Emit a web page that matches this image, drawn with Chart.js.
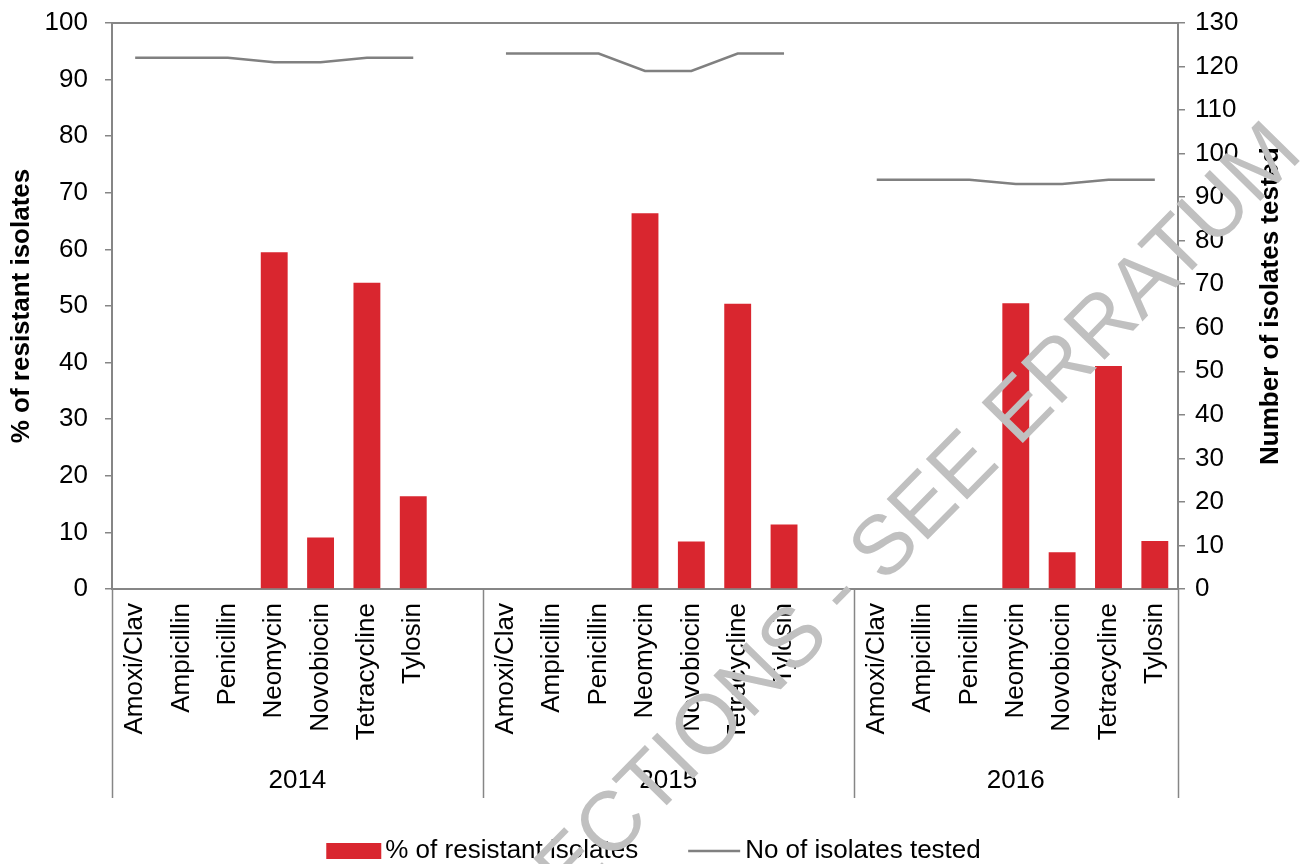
<!DOCTYPE html>
<html>
<head>
<meta charset="utf-8">
<script src="https://cdn.jsdelivr.net/npm/chart.js@4.4.1/dist/chart.umd.min.js"></script>
<style>
  html, body { margin: 0; padding: 0; background: #fff; }
  #wrap { width: 1301px; height: 864px; position: relative; }
</style>
</head>
<body>
<div id="wrap"><canvas id="resChart"></canvas></div>
<script>
// antibiotics per year, blank slot after each year like the original sheet
const drugs = ["Amoxi/Clav", "Ampicillin", "Penicillin", "Neomycin", "Novobiocin", "Tetracycline", "Tylosin"];
const categories = [].concat(drugs, [""], drugs, [""], drugs);
const years = ["2014", "2015", "2016"];
const yearStart = [0, 8, 16, 23];   // category index where each year block starts (last = end)

// % of resistant isolates
const pctResistant = [
  0, 0, 0, 59.5, 9.1, 54.1, 16.4, null,
  0, 0, 0, 66.4, 8.4, 50.4, 11.4, null,
  0, 0, 0, 50.5, 6.5, 39.4, 8.5
];

// No of isolates tested
const isolatesTested = [
  122, 122, 122, 121, 121, 122, 122, null,
  123, 123, 123, 119, 119, 123, 123, null,
  94, 94, 94, 93, 93, 94, 94
];

const leftTicks = { min: 0, max: 100, step: 10 };
const rightTicks = { min: 0, max: 130, step: 10 };

const FONT = "'Liberation Sans', Arial, sans-serif";
const AXIS_GREY = "#868686";
const BAR_RED = "#d9262f";
const LINE_GREY = "#808080";

const extras = {
  id: "extras",
  afterDraw(chart) {
    const ctx = chart.ctx;
    const area = chart.chartArea;
    const x = chart.scales.x;
    const step = x.getPixelForValue(1) - x.getPixelForValue(0);
    const edge = i => (i < categories.length ? x.getPixelForValue(i) - step / 2 : x.getPixelForValue(i - 1) + step / 2);

    ctx.save();
    // top frame line
    ctx.strokeStyle = AXIS_GREY;
    ctx.lineWidth = 2;
    ctx.beginPath();
    ctx.moveTo(area.left, area.top);
    ctx.lineTo(area.right, area.top);
    ctx.stroke();

    // year dividers + labels
    ctx.lineWidth = 1.5;
    yearStart.forEach(i => {
      const px = Math.round(edge(i)) + 0.5;
      ctx.beginPath();
      ctx.moveTo(px, area.bottom);
      ctx.lineTo(px, 798);
      ctx.stroke();
    });
    ctx.fillStyle = "#000";
    ctx.font = "26px " + FONT;
    ctx.textAlign = "center";
    ctx.textBaseline = "middle";
    years.forEach((yr, k) => {
      ctx.fillText(yr, (edge(yearStart[k]) + edge(yearStart[k + 1])) / 2, 781);
    });

    // right axis title, reads bottom to top like the left one
    ctx.save();
    ctx.translate(1271, area.top + (area.bottom - area.top) / 2);
    ctx.rotate(-Math.PI / 2);
    ctx.font = "bold 26px " + FONT;
    ctx.fillText("Number of isolates tested", 0, 0);
    ctx.restore();

    // legend
    const ds = chart.data.datasets;
    ctx.font = "26px " + FONT;
    ctx.textAlign = "left";
    const w1 = ctx.measureText(ds[0].label).width;
    const w2 = ctx.measureText(ds[1].label).width;
    const total = 55 + 4 + w1 + 50 + 52 + 5 + w2;
    let lx = (chart.width - total) / 2 + 3;
    const ly = 851;
    ctx.fillStyle = BAR_RED;
    ctx.fillRect(lx, ly - 8, 55, 16);
    ctx.fillStyle = "#000";
    ctx.fillText(ds[0].label, lx + 59, ly);
    lx += 59 + w1 + 50;
    ctx.strokeStyle = LINE_GREY;
    ctx.lineWidth = 2.5;
    ctx.beginPath();
    ctx.moveTo(lx, ly);
    ctx.lineTo(lx + 52, ly);
    ctx.stroke();
    ctx.fillText(ds[1].label, lx + 57, ly);

    // watermark
    ctx.translate(834, 602);
    ctx.rotate(-45.5 * Math.PI / 180);
    ctx.font = "84px " + FONT;
    ctx.fillStyle = "#c0c0c0";
    ctx.textAlign = "center";
    ctx.textBaseline = "middle";
    ctx.fillText("CORRECTIONS - SEE ERRATUM", 0, 0);
    ctx.restore();
  }
};

// keep the plot frame where the original has it (no extra label overhang on top)
const trimTop = s => { s.paddingTop = 0; };

const ctx = document.getElementById("resChart").getContext("2d");

new Chart(ctx, {
  type: "bar",
  data: {
    labels: categories,
    datasets: [
      {
        label: "% of resistant isolates",
        data: pctResistant,
        backgroundColor: BAR_RED,
        borderWidth: 0,
        categoryPercentage: 1,
        barPercentage: 0.58,
        yAxisID: "y",
        order: 2
      },
      {
        type: "line",
        label: "No of isolates tested",
        data: isolatesTested,
        borderColor: LINE_GREY,
        backgroundColor: LINE_GREY,
        borderWidth: 2.5,
        pointRadius: 0,
        tension: 0,
        spanGaps: false,
        yAxisID: "y1",
        order: 1
      }
    ]
  },
  options: {
    responsive: true,
    maintainAspectRatio: false,
    animation: false,
    layout: { padding: { top: 23, left: 0, right: 0, bottom: 0 } },
    plugins: {
      legend: { display: false },
      tooltip: { enabled: false }
    },
    scales: {
      x: {
        grid: { drawOnChartArea: false, drawTicks: false, color: AXIS_GREY },
        border: { color: AXIS_GREY, width: 2 },
        ticks: {
          autoSkip: false,
          minRotation: 90,
          maxRotation: 90,
          padding: 14,
          color: "#000",
          font: { family: FONT, size: 26 }
        },
        afterFit: s => { s.height = 275; }
      },
      y: {
        position: "left",
        min: leftTicks.min,
        max: leftTicks.max,
        grid: { drawOnChartArea: false, tickLength: 7, color: AXIS_GREY, lineWidth: 1.5 },
        border: { color: AXIS_GREY, width: 2 },
        ticks: {
          stepSize: leftTicks.step,
          padding: 17,
          color: "#000",
          font: { family: FONT, size: 26 }
        },
        title: {
          display: true,
          text: "% of resistant isolates",
          color: "#000",
          font: { family: FONT, size: 26, weight: "bold" },
          padding: { top: 6, bottom: 0 }
        },
        afterFit: s => { s.width = 112; trimTop(s); }
      },
      y1: {
        position: "right",
        min: rightTicks.min,
        max: rightTicks.max,
        grid: { drawOnChartArea: false, tickLength: 7, color: AXIS_GREY, lineWidth: 1.5 },
        border: { color: AXIS_GREY, width: 2 },
        ticks: {
          stepSize: rightTicks.step,
          padding: 10,
          color: "#000",
          font: { family: FONT, size: 26 }
        },
        afterFit: s => { s.width = 123; trimTop(s); }
      }
    }
  },
  plugins: [extras]
});
</script>
</body>
</html>
